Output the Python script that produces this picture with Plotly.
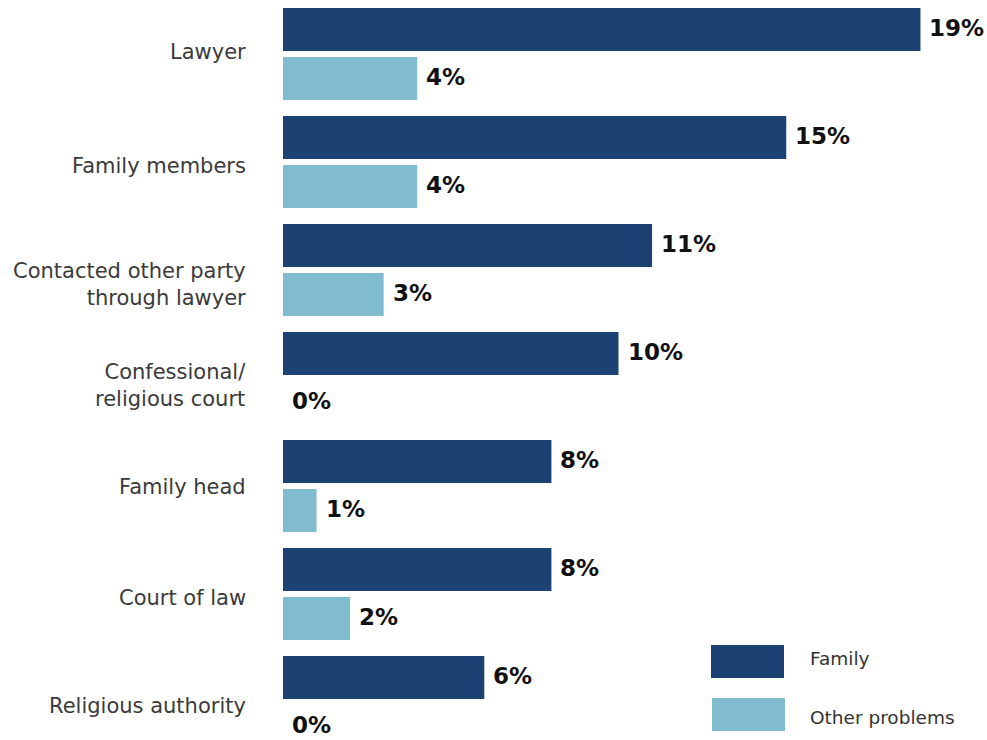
import plotly.graph_objects as go

categories = ["Lawyer", "Family members", "Contacted other party<br>through lawyer",
              "Confessional/<br>religious court", "Family head", "Court of law",
              "Religious authority"]
family = [19, 15, 11, 10, 8, 8, 6]
other = [4, 4, 3, 0, 1, 2, 0]
series_names = ["Family", "Other problems"]
colors = ["#1b4272", "#80bbcf"]
# vertical nudges (px, downward) of the category labels, as in the reference
label_nudge = [-2, 4, 14, 7, 1, 4, 4]

W, H = 987, 740
L, R, T, B = 283, 33, 0, 0
pw, ph = W - L - R, H - T - B
PITCH = 108.0

def px(x):
    return (x - L) / pw

def py(y):
    return 1 - (y - T) / ph

FONT = "DejaVu Sans"

fig = go.Figure()
for name, vals, col in zip(series_names, [family, other], colors):
    fig.add_trace(go.Bar(y=categories, x=vals, name=name, orientation="h",
                         marker=dict(color=col, line=dict(width=0)),
                         hoverinfo="skip"))

# category labels
for c, n in zip(categories, label_nudge):
    fig.add_annotation(x=0, y=c, xref="paper", yref="y", text=c, showarrow=False,
                       xanchor="right", yanchor="middle", align="right",
                       xshift=-35, yshift=-n,
                       font=dict(family=FONT, size=21, color="#3a3a3a"))

# value labels
for i, vals in enumerate([family, other]):
    shift = 26.5 if i == 0 else -22.5
    for c, v in zip(categories, vals):
        fig.add_annotation(x=v, y=c, xref="x", yref="y", text=f"<b>{v}%</b>",
                           showarrow=False, xanchor="left", yanchor="middle",
                           xshift=7, yshift=shift,
                           font=dict(family=FONT, size=23, color="#111111"))

# custom legend
leg = [(711, 645, 784, 678, 658), (712, 698, 785, 731, 717)]
for (x0, y0, x1, y1, ty), name, col in zip(leg, series_names, colors):
    fig.add_shape(type="rect", xref="paper", yref="paper",
                  x0=px(x0), x1=px(x1), y0=py(y1), y1=py(y0),
                  fillcolor=col, line=dict(width=0))
    fig.add_annotation(xref="paper", yref="paper", x=px(808), y=py(ty), text=name,
                       showarrow=False, xanchor="left", yanchor="middle",
                       font=dict(family=FONT, size=18.5, color="#333333"))

top = -54 / PITCH
bottom = (H - 54) / PITCH
fig.update_layout(
    width=W, height=H,
    margin=dict(l=L, r=R, t=T, b=B, pad=0),
    paper_bgcolor="white", plot_bgcolor="white",
    barmode="group", bargap=0.0926, bargroupgap=0.122,
    showlegend=False,
    hovermode=False,
    font=dict(family=FONT, size=20, color="#333333"),
    xaxis=dict(range=[0, 20], visible=False, fixedrange=True),
    yaxis=dict(type="category", range=[bottom, top], showgrid=False, fixedrange=True,
               zeroline=False, showline=False, ticks="", showticklabels=False),
)

fig.write_html("out.html", config={"displayModeBar": False},
               post_script="document.body.style.margin='0px';document.body.style.overflow='hidden';")
